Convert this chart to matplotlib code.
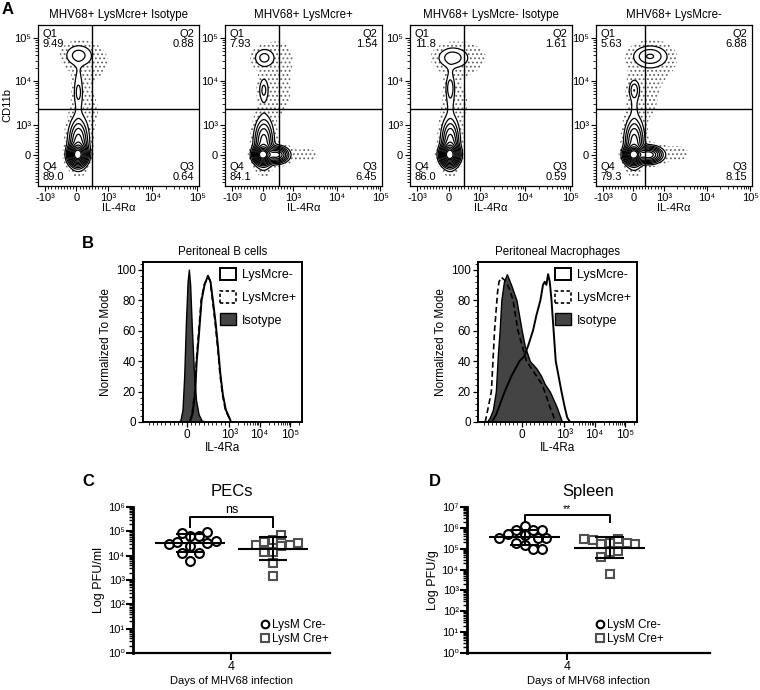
import numpy as np
import matplotlib
matplotlib.use("Agg")
import matplotlib.pyplot as plt
from matplotlib.patches import Patch
from matplotlib.lines import Line2D
from matplotlib.ticker import FixedLocator, NullFormatter, FixedFormatter, MultipleLocator

plt.rcParams['font.family'] = ['Liberation Sans', 'DejaVu Sans']
plt.rcParams['hatch.color'] = '#666666'
plt.rcParams['hatch.linewidth'] = 0.8
plt.rcParams['axes.unicode_minus'] = False

# ---------------- Panel A data ----------------
a_titles = ['MHV68+ LysMcre+ Isotype', 'MHV68+ LysMcre+', 'MHV68+ LysMcre- Isotype', 'MHV68+ LysMcre-']
a_q1 = ['9.49', '7.93', '11.8', '5.63']
a_q2 = ['0.88', '1.54', '1.61', '6.88']
a_q3 = ['0.64', '6.45', '0.59', '8.15']
a_q4 = ['89.0', '84.1', '86.0', '79.3']
a_gate_x = [500, 530, 470, 400]
a_gate_y = [2300, 2300, 2300, 2300]
# density populations: (IL-4Ra centre, CD11b centre, x spread [decades], y spread [decades], peak height)
a_pop_1 = [(40, 0, 0.10, 0.12, 1.0), (60, 400, 0.11, 0.28, 0.25), (60, 6000, 0.065, 0.35, 0.035),
           (60, 5500, 0.045, 0.12, 0.025), (60, 40000, 0.17, 0.14, 0.055),
           (400, 30000, 0.35, 0.30, 0.008), (300, 2000, 0.30, 0.50, 0.006)]
a_pop_2 = [(0, 0, 0.10, 0.10, 1.0), (450, 0, 0.13, 0.09, 0.5), (40, 400, 0.11, 0.28, 0.25),
           (40, 5000, 0.06, 0.30, 0.012), (40, 6300, 0.06, 0.14, 0.04), (50, 35000, 0.13, 0.12, 0.055),
           (400, 6000, 0.30, 0.50, 0.008), (500, 40000, 0.30, 0.30, 0.006), (2000, 0, 0.40, 0.20, 0.005)]
a_pop_3 = [(30, 0, 0.10, 0.12, 1.0), (50, 400, 0.10, 0.28, 0.25), (50, 6000, 0.06, 0.35, 0.035),
           (50, 7000, 0.05, 0.13, 0.04), (120, 35000, 0.18, 0.13, 0.06),
           (400, 35000, 0.40, 0.25, 0.010), (200, 3000, 0.30, 0.50, 0.006)]
a_pop_4 = [(0, 0, 0.10, 0.10, 1.0), (500, 0, 0.15, 0.09, 0.55), (30, 400, 0.11, 0.28, 0.25),
           (30, 3000, 0.06, 0.25, 0.02), (30, 6300, 0.065, 0.12, 0.065), (550, 38000, 0.21, 0.13, 0.075),
           (700, 30000, 0.35, 0.30, 0.010), (300, 5000, 0.30, 0.50, 0.008), (2000, 50, 0.40, 0.25, 0.005)]
a_pops = [a_pop_1, a_pop_2, a_pop_3, a_pop_4]

# ---------------- Panel B data ----------------
bc_iso_x = [-250, -150, -100, -60, -20, 20, 50, 80, 120, 170, 220, 280, 350, 450]
bc_iso_y = [0, 1, 8, 30, 65, 92, 100, 90, 62, 32, 14, 5, 1, 0]
bc_neg_x = [80, 140, 200, 235, 280, 350, 420, 500, 560, 615, 680, 740, 790, 850, 920, 1000, 1150]
bc_neg_y = [0, 6, 20, 40, 55, 80, 90, 96, 92, 80, 65, 48, 32, 18, 8, 3, 0]
bc_pos_x = [70, 130, 190, 225, 270, 340, 410, 490, 550, 605, 670, 730, 780, 840, 910, 990, 1120]
bc_pos_y = [0, 6, 20, 40, 55, 80, 90, 95, 93, 80, 65, 48, 32, 18, 8, 3, 0]

mac_iso_x = [-820, -750, -680, -610, -560, -520, -480, -420, -350, -250, -125, 0, 70, 190, 350, 460, 540, 660, 820, 950]
mac_iso_y = [0, 3, 8, 20, 45, 60, 80, 92, 97, 90, 80, 60, 50, 40, 35, 30, 25, 20, 10, 0]
mac_pos_x = [-860, -800, -715, -640, -570, -535, -480, -400, -300, -205, -90, 110, 350, 470, 540, 660, 800]
mac_pos_y = [0, 8, 20, 60, 85, 92, 95, 93, 88, 80, 60, 40, 30, 25, 20, 10, 0]
mac_neg_x = [-700, -600, -400, -245, -50, 55, 150, 265, 345, 440, 500, 540, 580, 620, 660, 700, 750, 800, 935, 1030, 1250, 1550]
mac_neg_y = [0, 5, 20, 30, 40, 43, 50, 60, 70, 80, 90, 92, 90, 97, 92, 80, 60, 40, 20, 10, 3, 0]

b_titles = ['Peritoneal B cells', 'Peritoneal Macrophages']
b_legend = ['LysMcre-', 'LysMcre+', 'Isotype']

# ---------------- Panels C / D data (log10 PFU) ----------------
c_cre_neg = [4.81, 4.81, 4.92, 4.99, 4.58, 4.51, 4.40, 4.48, 4.62, 4.10, 4.10, 3.79]
c_cre_pos = [4.66, 4.86, 4.55, 4.40, 4.44, 4.16, 4.44, 4.16, 4.53, 3.70, 3.17]
d_cre_neg = [6.09, 5.90, 5.90, 5.90, 5.72, 5.64, 5.53, 5.53, 5.53, 5.29, 5.16, 4.97, 4.97]
d_cre_pos = [5.29, 5.48, 5.21, 4.84, 5.29, 4.89, 4.62, 5.43, 5.25, 5.45, 3.81]
cd_groups = ['LysM Cre-', 'LysM Cre+']
cd_day = '4'

# ---------------- helpers ----------------
W, H = 760, 690
fig = plt.figure(figsize=(W / 100, H / 100), dpi=100)


def add_ax(l, t, r, b):
    return fig.add_axes([l / W, 1 - b / H, (r - l) / W, (b - t) / H])


def ftext(px, py, s, **kw):
    fig.text(px / W, 1 - py / H, s, **kw)


def sym_fwd(a, ladj):
    a = np.asarray(a, float)
    aa = np.maximum(np.abs(a), 1e-9)
    return np.where(np.abs(a) <= 1000, a / 1000 * ladj, np.sign(a) * (ladj + np.log10(aa / 1000)))


def sym_inv(u, ladj):
    u = np.asarray(u, float)
    return np.where(np.abs(u) <= ladj, u / ladj * 1000, np.sign(u) * 1000 * 10 ** (np.abs(u) - ladj))


def flow_minor(lo, hi):
    ticks = [v for v in range(-1000, 1001, 100) if v not in (-1000, 0, 1000)]
    for e in (3, 4, 5):
        for k in range(2, 10):
            ticks += [k * 10 ** e, -k * 10 ** e]
    return sorted(t for t in ticks if lo < t < hi)


# ---------------- Panel A ----------------
A_LADJ = 0.7
a_boxes = [(38, 25, 199, 186), (225, 25, 382, 186), (410, 25, 572, 186), (596, 25, 752, 186)]
a_xlim = (-1450, 110000)
a_ylim = (-1050, 200000)
a_levels = [0.02, 0.045, 0.08, 0.13, 0.2, 0.3, 0.42, 0.56, 0.72, 0.88]

for i, box in enumerate(a_boxes):
    ax = add_ax(*box)
    ax.set_xscale('symlog', linthresh=1000, linscale=A_LADJ * 0.9)
    ax.set_yscale('symlog', linthresh=1000, linscale=A_LADJ * 0.9)
    U = np.linspace(sym_fwd(a_xlim[0], A_LADJ), sym_fwd(a_xlim[1], A_LADJ), 360)
    V = np.linspace(sym_fwd(a_ylim[0], A_LADJ), sym_fwd(a_ylim[1], A_LADJ), 360)
    UU, VV = np.meshgrid(U, V)
    Z = np.zeros_like(UU)
    for (cx, cy, su, sv, w) in a_pops[i]:
        Z += w * np.exp(-0.5 * (((UU - sym_fwd(cx, A_LADJ)) / su) ** 2 + ((VV - sym_fwd(cy, A_LADJ)) / sv) ** 2))
    Xd = sym_inv(U, A_LADJ)
    Yd = sym_inv(V, A_LADJ)
    ax.contourf(Xd, Yd, Z, levels=[0.004, a_levels[0]], colors='none', hatches=['....'])
    ax.contour(Xd, Yd, Z, levels=a_levels, colors='black', linewidths=0.9)
    ax.axvline(a_gate_x[i], color='black', lw=1.0)
    ax.axhline(a_gate_y[i], color='black', lw=1.0)
    ax.set_xlim(*a_xlim)
    ax.set_ylim(*a_ylim)
    ax.xaxis.set_major_locator(FixedLocator([-1000, 0, 1000, 1e4, 1e5]))
    ax.xaxis.set_major_formatter(FixedFormatter(['-10³', '0', '10³', '10⁴', '10⁵']))
    ax.yaxis.set_major_locator(FixedLocator([0, 1000, 1e4, 1e5]))
    ax.yaxis.set_major_formatter(FixedFormatter(['0', '10³', '10⁴', '10⁵']))
    ax.xaxis.set_minor_locator(FixedLocator(flow_minor(*a_xlim)))
    ax.yaxis.set_minor_locator(FixedLocator(flow_minor(*a_ylim)))
    ax.xaxis.set_minor_formatter(NullFormatter())
    ax.yaxis.set_minor_formatter(NullFormatter())
    ax.tick_params(which='major', length=3.5, width=0.8, labelsize=8, pad=1.5)
    ax.tick_params(which='minor', length=2, width=0.6)
    for s in ax.spines.values():
        s.set_linewidth(0.9)
    tk = dict(fontsize=8, linespacing=1.05, transform=ax.transAxes)
    ax.text(0.03, 0.975, 'Q1\n' + a_q1[i], ha='left', va='top', **tk)
    ax.text(0.97, 0.975, 'Q2\n' + a_q2[i], ha='right', va='top', **tk)
    ax.text(0.03, 0.025, 'Q4\n' + a_q4[i], ha='left', va='bottom', **tk)
    ax.text(0.97, 0.025, 'Q3\n' + a_q3[i], ha='right', va='bottom', **tk)
    ax.set_title(a_titles[i], fontsize=8.3, pad=5)
    ax.set_xlabel('IL-4Rα', fontsize=8, labelpad=0)
    if i == 0:
        ax.set_ylabel('CD11b', fontsize=8, labelpad=1)

# ---------------- Panel B ----------------
B_LADJ = 1.4
b_boxes = [(143, 262, 302, 422), (478, 262, 637, 422)]
b_xlim = (-1100, 250000)
b_data = [(bc_iso_x, bc_iso_y, bc_neg_x, bc_neg_y, bc_pos_x, bc_pos_y),
          (mac_iso_x, mac_iso_y, mac_neg_x, mac_neg_y, mac_pos_x, mac_pos_y)]
for i, box in enumerate(b_boxes):
    ax = add_ax(*box)
    ax.set_xscale('symlog', linthresh=1000, linscale=B_LADJ * 0.9)
    ix, iy, nx, ny, px_, py_ = b_data[i]
    ax.fill_between(ix, iy, 0, facecolor='#444444', edgecolor='black', lw=1.0, zorder=2)
    ax.plot(px_, py_, color='black', lw=1.2, ls=(0, (3.5, 2)), zorder=3)
    ax.plot(nx, ny, color='black', lw=1.4, zorder=4)
    ax.set_xlim(*b_xlim)
    ax.set_ylim(0, 105)
    ax.xaxis.set_major_locator(FixedLocator([0, 1000, 1e4, 1e5]))
    ax.xaxis.set_major_formatter(FixedFormatter(['0', '10³', '10⁴', '10⁵']))
    ax.xaxis.set_minor_locator(FixedLocator(flow_minor(*b_xlim)))
    ax.xaxis.set_minor_formatter(NullFormatter())
    ax.yaxis.set_major_locator(MultipleLocator(20))
    ax.yaxis.set_minor_locator(MultipleLocator(4))
    ax.tick_params(which='major', length=3.5, width=0.9, labelsize=8.5, pad=1.5)
    ax.tick_params(which='minor', length=2, width=0.6)
    for s in ax.spines.values():
        s.set_linewidth(1.4)
    ax.set_title(b_titles[i], fontsize=8.3, pad=5)
    ax.set_xlabel('IL-4Ra', fontsize=8.5, labelpad=1)
    ax.set_ylabel('Normalized To Mode', fontsize=8.5, labelpad=3)
    handles = [Patch(facecolor='white', edgecolor='black', lw=1.4),
               Patch(facecolor='white', edgecolor='black', lw=1.2, ls=(0, (2, 1.5))),
               Patch(facecolor='#444444', edgecolor='black', lw=1.0)]
    ax.legend(handles, b_legend, loc='upper right', frameon=False, fontsize=9,
              handlelength=1.25, handleheight=1.1, labelspacing=0.75, handletextpad=0.45,
              borderaxespad=0.3, borderpad=0.2)

# ---------------- Panels C / D ----------------
def swarm(logvals, px_per_dec, px_per_unit, diam):
    ypx = np.asarray(logvals, float) * px_per_dec
    placed = []
    offs = np.zeros(len(ypx))
    step = diam * 0.5
    cands = [0.0]
    for k in range(1, 40):
        cands += [k * step, -k * step]
    for j in range(len(ypx)):
        for c in cands:
            if all((c - qx) ** 2 + (ypx[j] - qy) ** 2 >= diam ** 2 for qx, qy in placed):
                offs[j] = c
                placed.append((c, ypx[j]))
                break
    return offs / px_per_unit


cd_specs = [
    dict(box=(133, 507, 330, 653), ylim=(0, 6), xlim=(-0.687, 1.687), data=(c_cre_neg, c_cre_pos),
         title='PECs', ylabel='Log PFU/ml', sig='ns', br=(5.59, 5.18), leg=(0.6, 0.0)),
    dict(box=(467, 507, 710, 653), ylim=(0, 7), xlim=(-0.68, 2.18), data=(d_cre_neg, d_cre_pos),
         title='Spleen', ylabel='Log PFU/g', sig='**', br=(6.6, 6.27), leg=(0.49, 0.0)),
]
sup = {0: '⁰', 1: '¹', 2: '²', 3: '³', 4: '⁴', 5: '⁵', 6: '⁶', 7: '⁷'}
for spec in cd_specs:
    l, t, r, b = spec['box']
    ax = add_ax(l, t, r, b)
    ax.set_yscale('log')
    y0, y1 = spec['ylim']
    ax.set_ylim(10 ** y0, 10 ** y1)
    ax.set_xlim(*spec['xlim'])
    px_per_dec = (b - t) / (y1 - y0)
    px_per_unit = (r - l) / (spec['xlim'][1] - spec['xlim'][0])
    styles = [dict(marker='o', mec='black', ms=6.4, mew=1.5),
              dict(marker='s', mec='#505050', ms=6.0, mew=1.5)]
    for g, vals in enumerate(spec['data']):
        vals = np.asarray(vals)
        offs = swarm(vals, px_per_dec, px_per_unit, 8.5)
        ax.plot(g + offs, 10 ** vals, ls='none', mfc='none', zorder=3, clip_on=False, **styles[g])
        m = vals.mean()
        sd = vals.std(ddof=1)
        ax.hlines(10 ** m, g - 0.42, g + 0.42, color='black', lw=1.5, zorder=4)
        ax.vlines(g, 10 ** (m - sd), 10 ** (m + sd), color='black', lw=1.5, zorder=4)
        ax.hlines([10 ** (m - sd), 10 ** (m + sd)], g - 0.17, g + 0.17, color='black', lw=1.5, zorder=4)
    bt, bb = spec['br']
    ax.plot([0, 0, 1, 1], [10 ** bb, 10 ** bt, 10 ** bt, 10 ** bb], color='black', lw=1.4, clip_on=False)
    ax.text(0.5, 10 ** (bt + 0.05), spec['sig'], ha='center', va='bottom', fontsize=9 if spec['sig'] == 'ns' else 7.5)
    ax.spines['top'].set_visible(False)
    ax.spines['right'].set_visible(False)
    ax.spines['left'].set_linewidth(2.0)
    ax.spines['bottom'].set_linewidth(1.6)
    ax.set_xticks([0.5])
    ax.set_xticklabels([cd_day])
    majors = [10.0 ** k for k in range(y0, y1 + 1)]
    ax.yaxis.set_major_locator(FixedLocator(majors))
    ax.yaxis.set_major_formatter(FixedFormatter(['10' + sup[k] for k in range(y0, y1 + 1)]))
    ax.yaxis.set_minor_locator(FixedLocator([k * 10.0 ** e for e in range(y0, y1) for k in range(2, 10)]))
    ax.yaxis.set_minor_formatter(NullFormatter())
    ax.tick_params(axis='y', which='major', length=5, width=1.5, labelsize=8, pad=1)
    ax.tick_params(axis='y', which='minor', length=3, width=1.0)
    ax.tick_params(axis='x', which='major', length=5, width=1.5, labelsize=9, pad=1)
    ax.set_title(spec['title'], fontsize=12, pad=8)
    ax.set_xlabel('Days of MHV68 infection', fontsize=8, labelpad=2)
    ax.set_ylabel(spec['ylabel'], fontsize=9, labelpad=2)
    lh = [Line2D([], [], ls='none', mfc='none', **dict(styles[0], ms=5.5)),
          Line2D([], [], ls='none', mfc='none', **dict(styles[1], ms=5.5))]
    ax.legend(lh, cd_groups, loc='lower left', bbox_to_anchor=spec['leg'], frameon=False, fontsize=8.5,
              handletextpad=0.1, labelspacing=0.15, handlelength=1.0, borderpad=0.2)

# ---------------- panel letters ----------------
for letter, (px, py) in {'A': (8, 10), 'B': (88, 244), 'C': (88, 481), 'D': (435, 481)}.items():
    ftext(px, py, letter, fontsize=12, fontweight='bold', ha='center', va='center')

fig.savefig('out.png', dpi=100)
